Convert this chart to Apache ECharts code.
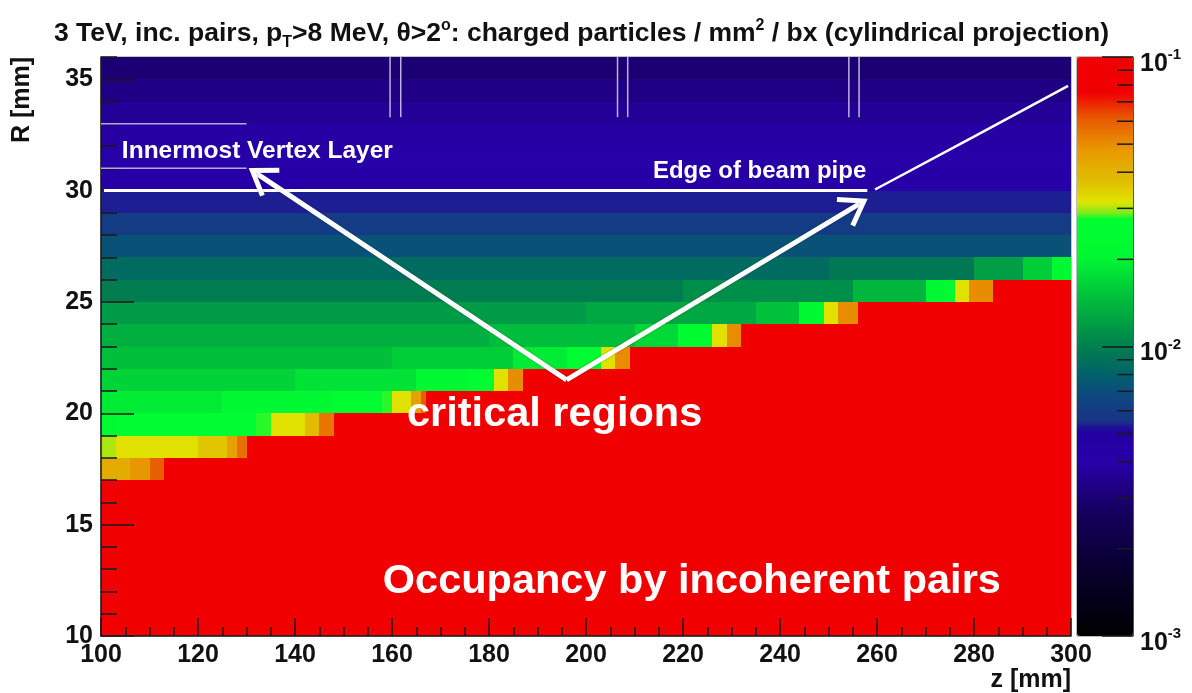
<!DOCTYPE html>
<html>
<head>
<meta charset="utf-8">
<script src="https://cdn.jsdelivr.net/npm/echarts@6/dist/echarts.min.js"></script>
<style>
  html, body { margin: 0; padding: 0; background: #ffffff; }
  #main { width: 1192px; height: 693px; }
</style>
</head>
<body>
<div id="main"></div>
<script>
// ---------------------------------------------------------------------------
// Charged-particle occupancy (particles / mm^2 / bx), cylindrical projection.
// Rows are 1 mm bins in R (lower edge given); each row is a list of
// [zFrom, zTo, occupancy] runs along z.
// ---------------------------------------------------------------------------
const SAT = 0.2; // above the top of the colour scale: drawn in the top colour

const rRows = [10, 11, 12, 13, 14, 15, 16, 17, 18, 19, 20, 21, 22,
               23, 24, 25, 26, 27, 28, 29, 30, 31, 32, 33, 34, 35];

const rowRuns = [
  [[100, 300, SAT]],                                                       // 10
  [[100, 300, SAT]],                                                       // 11
  [[100, 300, SAT]],                                                       // 12
  [[100, 300, SAT]],                                                       // 13
  [[100, 300, SAT]],                                                       // 14
  [[100, 300, SAT]],                                                       // 15
  [[100, 300, SAT]],                                                       // 16
  [[100, 106, 0.042], [106, 110, 0.048], [110, 113, 0.060], [113, 300, SAT]], // 17
  [[100, 103, 0.030], [103, 120, 0.032], [120, 126, 0.036], [126, 128, 0.045],
   [128, 130, 0.056], [130, 300, SAT]],                                    // 18
  [[100, 103, 0.022], [103, 132, 0.025], [132, 135, 0.028], [135, 142, 0.032],
   [142, 145, 0.038], [145, 148, 0.055], [148, 300, SAT]],                 // 19
  [[100, 125, 0.019], [125, 148, 0.021], [148, 158, 0.024], [158, 160, 0.028],
   [160, 164, 0.032], [164, 166, 0.045], [166, 167, 0.060], [167, 300, SAT]], // 20
  [[100, 140, 0.0165], [140, 165, 0.018], [165, 176, 0.021], [176, 181, 0.025],
   [181, 184, 0.032], [184, 187, 0.050], [187, 300, SAT]],                 // 21
  [[100, 160, 0.0148], [160, 185, 0.016], [185, 196, 0.019], [196, 203, 0.024],
   [203, 206, 0.032], [206, 209, 0.050], [209, 300, SAT]],                 // 22
  [[100, 180, 0.0133], [180, 210, 0.0145], [210, 219, 0.017], [219, 226, 0.023],
   [226, 229, 0.032], [229, 232, 0.050], [232, 300, SAT]],                 // 23
  [[100, 200, 0.0118], [200, 235, 0.0128], [235, 244, 0.015], [244, 249, 0.022],
   [249, 252, 0.032], [252, 256, 0.050], [256, 300, SAT]],                 // 24
  [[100, 220, 0.0098], [220, 255, 0.011], [255, 270, 0.014], [270, 276, 0.021],
   [276, 279, 0.032], [279, 284, 0.050], [284, 300, SAT]],                 // 25
  [[100, 250, 0.0086], [250, 280, 0.0095], [280, 290, 0.012], [290, 296, 0.016],
   [296, 300, 0.021]],                                                     // 26
  [[100, 300, 0.0072]],                                                    // 27
  [[100, 300, 0.0060]],                                                    // 28
  [[100, 300, 0.0053]],                                                    // 29
  [[100, 300, 0.0043]],                                                    // 30
  [[100, 300, 0.0042]],                                                    // 31
  [[100, 300, 0.0039]],                                                    // 32
  [[100, 300, 0.0036]],                                                    // 33
  [[100, 300, 0.0033]],                                                    // 34
  [[100, 300, 0.0030]]                                                     // 35
];

// Axis ranges and ticks
const zMin = 100, zMax = 300, zStep = 20;
const rMin = 10, rMax = 36, rStep = 5;
const scaleDecades = [-3, -2, -1];                 // colour scale 10^-3 .. 10^-1
const scaleMinorTicks = [0.002, 0.003, 0.004, 0.005, 0.006, 0.007, 0.008, 0.009,
                         0.02, 0.03, 0.04, 0.05, 0.06, 0.07, 0.08, 0.09];

// Detector outlines (z in mm, R in mm)
const vertexLayerLines = [[100, 130, 33], [100, 130, 31]];     // [z0, z1, R]
const ladderGaps = [159.6, 161.8, 206.5, 208.6, 254.2, 256.3]; // z of thin gaps
const ladderGapRange = [33.3, 36];
const beamPipeFlat = [[100.6, 30.0], [258.0, 30.0]];
const beamPipeCone = [[259.6, 30.05], [279.8, 32.4], [299.4, 34.7]];

// Arrows: [zFrom, RFrom, zTo, RTo]
const arrows = [[196.0, 21.5, 131.2, 30.9], [196.0, 21.5, 257.3, 29.53]];

// Text labels placed in data coordinates: [z, R]
const notes = [
  { at: [104.3, 31.78], text: 'Innermost Vertex Layer', size: 24.5 },
  { at: [213.8, 30.88], text: 'Edge of beam pipe', size: 24 },
  { at: [163.1, 19.95], text: 'critical regions', size: 41.5 },
  { at: [158.1, 12.45], text: 'Occupancy by incoherent pairs', size: 41.5 }
];

// Colour palette along log10(occupancy)
const paletteStops = [
  [-3.00, '#000000'], [-2.78, '#08002c'], [-2.58, '#14005c'], [-2.40, '#2800a8'],
  [-2.285, '#2200a0'], [-2.27, '#1a3088'], [-2.17, '#0e4880'], [-2.09, '#006468'],
  [-2.01, '#007c50'], [-1.85, '#00b83c'], [-1.69, '#00f832'], [-1.56, '#00ff30'],
  [-1.535, '#90e818'], [-1.50, '#e0e400'], [-1.435, '#e0c000'], [-1.32, '#e89800'],
  [-1.21, '#e85800'], [-1.124, '#f00000'], [-1.00, '#f00000']
];

// ---------------------------------------------------------------------------
function hexToRgb(h) {
  return [parseInt(h.slice(1, 3), 16), parseInt(h.slice(3, 5), 16), parseInt(h.slice(5, 7), 16)];
}
function paletteAt(t) {
  for (let i = 1; i < paletteStops.length; i++) {
    const [t1, c1] = paletteStops[i];
    const [t0, c0] = paletteStops[i - 1];
    if (t <= t1) {
      const f = (t - t0) / (t1 - t0);
      const a = hexToRgb(c0), b = hexToRgb(c1);
      return 'rgb(' + a.map((v, k) => Math.round(v + (b[k] - v) * f)).join(',') + ')';
    }
  }
  return paletteStops[paletteStops.length - 1][1];
}
// evenly spaced colour list for the continuous visual map
const scaleColors = [];
for (let i = 0; i <= 200; i++) scaleColors.push(paletteAt(-3 + i * 0.01));

const toLog = v => Math.max(-3, Math.min(-1, Math.log10(v)));

// one rectangle per run: [z0, z1, R0, R1, log10(occupancy)]
const cells = [];
rRows.forEach((r, i) => {
  rowRuns[i].forEach(([z0, z1, v]) => cells.push([z0, z1, r, r + 1, toLog(v)]));
});

const FONT = '"Liberation Sans", Arial, Helvetica, sans-serif';
const AXIS_COLOR = '#1a1a1a';

const chart = echarts.init(document.getElementById('main'), null, { renderer: 'canvas' });

const option = {
  animation: false,
  backgroundColor: '#ffffff',
  title: {
    text: '3 TeV, inc. pairs, p{sub|T}>8 MeV, \u03b8>2{sup|o}: charged particles / mm{sup|2} / bx (cylindrical projection)',
    left: 49,
    top: 12,
    textStyle: {
      fontFamily: FONT, fontWeight: 'bold', fontSize: 26.5, color: '#111',
      rich: {
        sub: { fontFamily: FONT, fontWeight: 'bold', fontSize: 16, color: '#111', padding: [18, 0, 0, 0] },
        sup: { fontFamily: FONT, fontWeight: 'bold', fontSize: 16, color: '#111', padding: [0, 0, 16, 0] }
      }
    }
  },
  grid: [
    { left: 101, right: 121, top: 57, bottom: 57, show: true, borderColor: '#8a8a8a', borderWidth: 1, backgroundColor: 'transparent' },
    { left: 1077, width: 56, top: 57, bottom: 57, show: true, borderColor: '#7a7a7a', borderWidth: 1, backgroundColor: 'transparent' }
  ],
  visualMap: {
    type: 'continuous',
    min: -3, max: -1,
    dimension: 4,
    seriesIndex: 0,
    inRange: { color: scaleColors },
    calculable: false,
    showLabel: false,
    text: ['', ''],
    orient: 'vertical',
    left: 1077, top: 57,
    itemWidth: 56, itemHeight: 579,
    padding: 0,
    z: 1
  },
  xAxis: [
    {
      gridIndex: 0, type: 'value', min: zMin, max: zMax, interval: zStep,
      axisLine: { show: true, onZero: false, lineStyle: { color: AXIS_COLOR, width: 1.5 } },
      axisTick: { show: true, inside: true, length: 18, lineStyle: { color: AXIS_COLOR, width: 1.5 } },
      minorTick: { show: true, splitNumber: 4, length: 9, lineStyle: { color: AXIS_COLOR, width: 1.5 } },
      splitLine: { show: false },
      axisLabel: { margin: 7, fontFamily: FONT, fontWeight: 'bold', fontSize: 25, color: '#111' },
      z: 10
    },
    { gridIndex: 1, type: 'value', min: 0, max: 1, show: false }
  ],
  yAxis: [
    {
      gridIndex: 0, type: 'value', position: 'left', min: rMin, max: rMax, interval: rStep,
      axisLine: { show: true, onZero: false, lineStyle: { color: AXIS_COLOR, width: 1.5 } },
      axisTick: { show: true, inside: true, length: 33, lineStyle: { color: AXIS_COLOR, width: 1.5 } },
      splitLine: { show: false },
      axisLabel: { margin: 8, showMaxLabel: false, fontFamily: FONT, fontWeight: 'bold', fontSize: 25, color: '#111' },
      z: 10
    },
    {
      // 1 mm sub-divisions of the R axis
      gridIndex: 0, type: 'value', position: 'left', offset: 0, min: rMin, max: rMax, interval: 1,
      axisLine: { show: false, onZero: false },
      axisTick: { show: true, inside: true, length: 16, lineStyle: { color: AXIS_COLOR, width: 1.5 } },
      axisLabel: { show: false },
      splitLine: { show: false },
      z: 10
    },
    {
      gridIndex: 1, type: 'value', position: 'right', offset: 0,
      min: scaleDecades[0], max: scaleDecades[scaleDecades.length - 1], interval: 1,
      axisLine: { show: true, onZero: false, lineStyle: { color: '#555', width: 1 } },
      axisTick: { show: true, inside: true, length: 31, lineStyle: { color: AXIS_COLOR, width: 1.5 } },
      splitLine: { show: false },
      axisLabel: {
        margin: 7, align: 'left',
        formatter: v => '{b|10}{e|' + v + '}',
        rich: {
          b: { fontFamily: FONT, fontWeight: 'bold', fontSize: 25, color: '#111', padding: [14, 0, 0, 0] },
          e: { fontFamily: FONT, fontWeight: 'bold', fontSize: 15, color: '#111', padding: [0, 0, 4, 0] }
        }
      },
      z: 10
    }
  ],
  series: [
    {
      // occupancy map
      type: 'custom',
      xAxisIndex: 0, yAxisIndex: 0,
      clip: true,
      encode: { x: [0, 1], y: [2, 3] },
      data: cells,
      renderItem: (params, api) => {
        const p0 = api.coord([api.value(0), api.value(3)]);
        const p1 = api.coord([api.value(1), api.value(2)]);
        const x0 = Math.round(p0[0]), x1 = Math.round(p1[0]);
        const y0 = Math.round(p0[1]), y1 = Math.round(p1[1]);
        return {
          type: 'rect',
          shape: { x: x0, y: y0, width: x1 - x0, height: y1 - y0 },
          style: { fill: api.visual('color') }
        };
      },
      z: 1
    },
    {
      // vertex layer outline
      type: 'custom',
      xAxisIndex: 0, yAxisIndex: 0,
      data: vertexLayerLines,
      renderItem: (params, api) => {
        const a = api.coord([api.value(0), api.value(2)]);
        const b = api.coord([api.value(1), api.value(2)]);
        return { type: 'line', shape: { x1: a[0], y1: a[1], x2: b[0], y2: b[1] },
                 style: { stroke: 'rgba(205,200,235,0.85)', lineWidth: 1.5 } };
      },
      z: 12
    },
    {
      // thin gaps near the top
      type: 'custom',
      xAxisIndex: 0, yAxisIndex: 0,
      data: ladderGaps.map(z => [z, ladderGapRange[0], ladderGapRange[1]]),
      renderItem: (params, api) => {
        const a = api.coord([api.value(0), api.value(1)]);
        const b = api.coord([api.value(0), api.value(2)]);
        return { type: 'line', shape: { x1: a[0], y1: a[1], x2: b[0], y2: b[1] },
                 style: { stroke: 'rgba(215,210,240,0.85)', lineWidth: 1.5 } };
      },
      z: 3
    },
    {
      type: 'line', xAxisIndex: 0, yAxisIndex: 0,
      data: beamPipeFlat, symbol: 'none', silent: true,
      lineStyle: { color: '#ffffff', width: 3 }, z: 12
    },
    {
      type: 'line', xAxisIndex: 0, yAxisIndex: 0,
      data: beamPipeCone, symbol: 'none', silent: true,
      lineStyle: { color: '#ffffff', width: 2.5 }, z: 12
    },
    {
      // arrows
      type: 'custom',
      xAxisIndex: 0, yAxisIndex: 0,
      data: arrows,
      renderItem: (params, api) => {
        const a = api.coord([api.value(0), api.value(1)]);
        const b = api.coord([api.value(2), api.value(3)]);
        const ang = Math.atan2(b[1] - a[1], b[0] - a[0]);
        const L = 27, spread = 0.6;
        const h1 = [b[0] - L * Math.cos(ang - spread), b[1] - L * Math.sin(ang - spread)];
        const h2 = [b[0] - L * Math.cos(ang + spread), b[1] - L * Math.sin(ang + spread)];
        const st = { stroke: '#ffffff', lineWidth: 5, fill: null, shadowBlur: 2, shadowColor: 'rgba(0,0,0,0.35)' };
        return {
          type: 'group',
          children: [
            { type: 'polyline', shape: { points: [a, b] }, style: st },
            { type: 'polyline', shape: { points: [h1, b, h2] }, style: Object.assign({ lineJoin: 'miter' }, st) }
          ]
        };
      },
      z: 13
    },
    {
      // text labels
      type: 'custom',
      xAxisIndex: 0, yAxisIndex: 0,
      data: notes.map(n => n.at),
      renderItem: (params, api) => {
        const p = api.coord([api.value(0), api.value(1)]);
        const n = notes[params.dataIndex];
        return {
          type: 'text',
          x: p[0], y: p[1],
          style: {
            text: n.text, fill: '#ffffff',
            font: 'bold ' + n.size + 'px ' + FONT,
            textAlign: 'left', textVerticalAlign: 'middle'
          }
        };
      },
      z: 13
    },
    {
      // minor ticks of the colour scale
      type: 'custom',
      xAxisIndex: 1, yAxisIndex: 2,
      data: scaleMinorTicks.map(v => [1, Math.log10(v)]),
      renderItem: (params, api) => {
        const p = api.coord([api.value(0), api.value(1)]);
        return { type: 'line', shape: { x1: p[0] - 16, y1: p[1], x2: p[0], y2: p[1] },
                 style: { stroke: AXIS_COLOR, lineWidth: 1.5 } };
      },
      z: 10
    }
  ],
  graphic: [
    {
      type: 'text', x: 22, y: 57, rotation: Math.PI / 2,
      style: { text: 'R [mm]', font: 'bold 25px ' + FONT, fill: '#111', textAlign: 'right', textVerticalAlign: 'middle' }
    },
    {
      type: 'text', x: 1071, y: 680,
      style: { text: 'z [mm]', font: 'bold 25px ' + FONT, fill: '#111', textAlign: 'right', textVerticalAlign: 'middle' }
    }
  ]
};

chart.setOption(option);
</script>
</body>
</html>
